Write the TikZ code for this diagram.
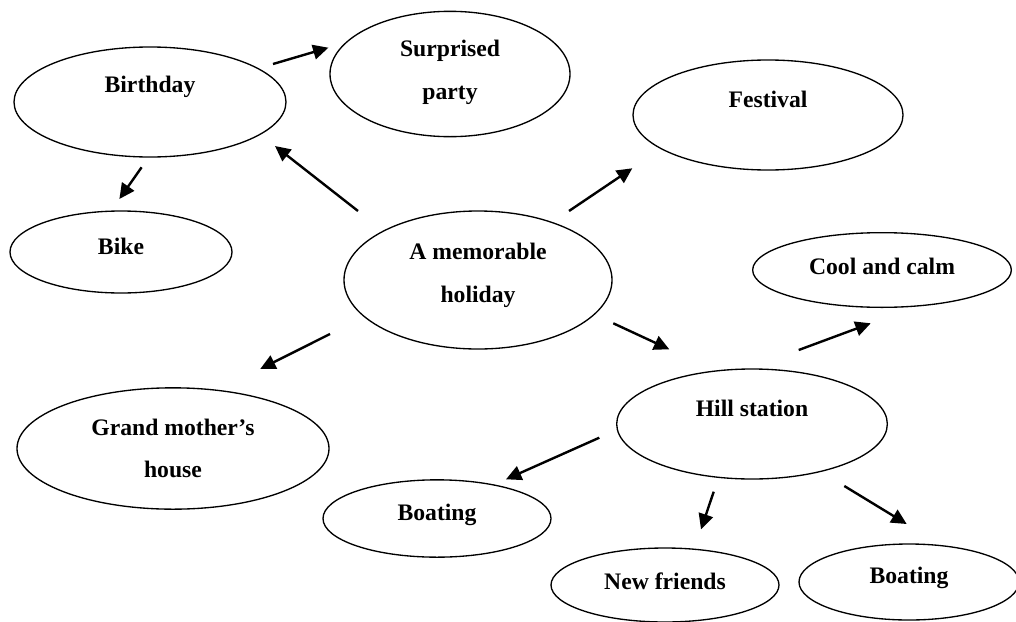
\documentclass[tikz,border=0pt]{standalone}
\usepackage{fontspec}
\setmainfont{Liberation Serif}
\usetikzlibrary{shapes.geometric,arrows.meta}
\tikzset{
  ell/.style={draw=black, line width=1pt, ellipse, inner sep=0pt},
  txt/.style={font=\fontsize{17.75}{32}\selectfont\bfseries, align=center, inner sep=0pt},
  arr/.style={line width=1.8pt, -{Triangle[length=11.5pt,width=11pt]}},
}
\begin{document}
\begin{tikzpicture}[x=0.75pt,y=-0.75pt]
\useasboundingbox (0,0) rectangle (1016,621);
% nodes (size in pt = px*0.75)
\node[ell, minimum width=204pt, minimum height=82.5pt,
  label={[txt, yshift=11pt]center:Birthday}] (bday) at (150,102) {};
\node[ell, minimum width=180pt, minimum height=94pt,
  label={[txt, yshift=1pt]center:Surprised\\party}] (surp) at (450,74) {};
\node[ell, minimum width=202.5pt, minimum height=82.5pt,
  label={[txt, yshift=11.5pt]center:Festival}] (fest) at (768,115) {};
\node[ell, minimum width=166.5pt, minimum height=61.5pt,
  label={[txt, yshift=4.5pt]center:Bike}] (bike) at (121,252) {};
\node[ell, minimum width=201pt, minimum height=103.5pt,
  label={[txt, yshift=3.5pt]center:A memorable\\holiday}] (hol) at (478,280) {};
\node[ell, minimum width=194pt, minimum height=56pt,
  label={[txt, yshift=3pt]center:Cool and calm}] (cool) at (882,270) {};
\node[ell, minimum width=203pt, minimum height=82.5pt,
  label={[txt, yshift=12pt]center:Hill station}] (hill) at (752,424) {};
\node[ell, minimum width=234pt, minimum height=91pt,
  label={[txt, yshift=0pt]center:Grand mother’s\\house}] (grand) at (173,448.5) {};
\node[ell, minimum width=171pt, minimum height=58pt,
  label={[txt, yshift=2.5pt]center:Boating}] (boatl) at (437,518.5) {};
\node[ell, minimum width=171pt, minimum height=55.5pt,
  label={[txt, yshift=2.5pt]center:New friends}] (newf) at (665,585) {};
\node[ell, minimum width=165pt, minimum height=57pt,
  label={[txt, yshift=3pt]center:Boating}] (boatr) at (909,582) {};
% arrow end points
\coordinate (a1s) at (273,64);    \coordinate (a1e) at (328.4,47.7);
\coordinate (a2s) at (358,211);   \coordinate (a2e) at (275,146);
\coordinate (a3s) at (141.6,167.3); \coordinate (a3e) at (119.4,199);
\coordinate (a4s) at (569,211);   \coordinate (a4e) at (632.3,168.3);
\coordinate (a5s) at (330,334);   \coordinate (a5e) at (260.2,369);
\coordinate (a6s) at (613.3,323.3); \coordinate (a6e) at (669.3,349.3);
\coordinate (a7s) at (798.7,350); \coordinate (a7e) at (870.7,323.3);
\coordinate (a8s) at (599.3,437.7); \coordinate (a8e) at (506,479.3);
\coordinate (a9s) at (713.7,491.7); \coordinate (a9e) at (701,529.3);
\coordinate (a10s) at (844.3,486); \coordinate (a10e) at (906.7,524);
% arrows
\draw[arr] (a1s) -- (a1e);
\draw[arr] (a2s) -- (a2e);
\draw[arr] (a3s) -- (a3e);
\draw[arr] (a4s) -- (a4e);
\draw[arr] (a5s) -- (a5e);
\draw[arr] (a6s) -- (a6e);
\draw[arr] (a7s) -- (a7e);
\draw[arr] (a8s) -- (a8e);
\draw[arr] (a9s) -- (a9e);
\draw[arr] (a10s) -- (a10e);
\end{tikzpicture}
\end{document}
